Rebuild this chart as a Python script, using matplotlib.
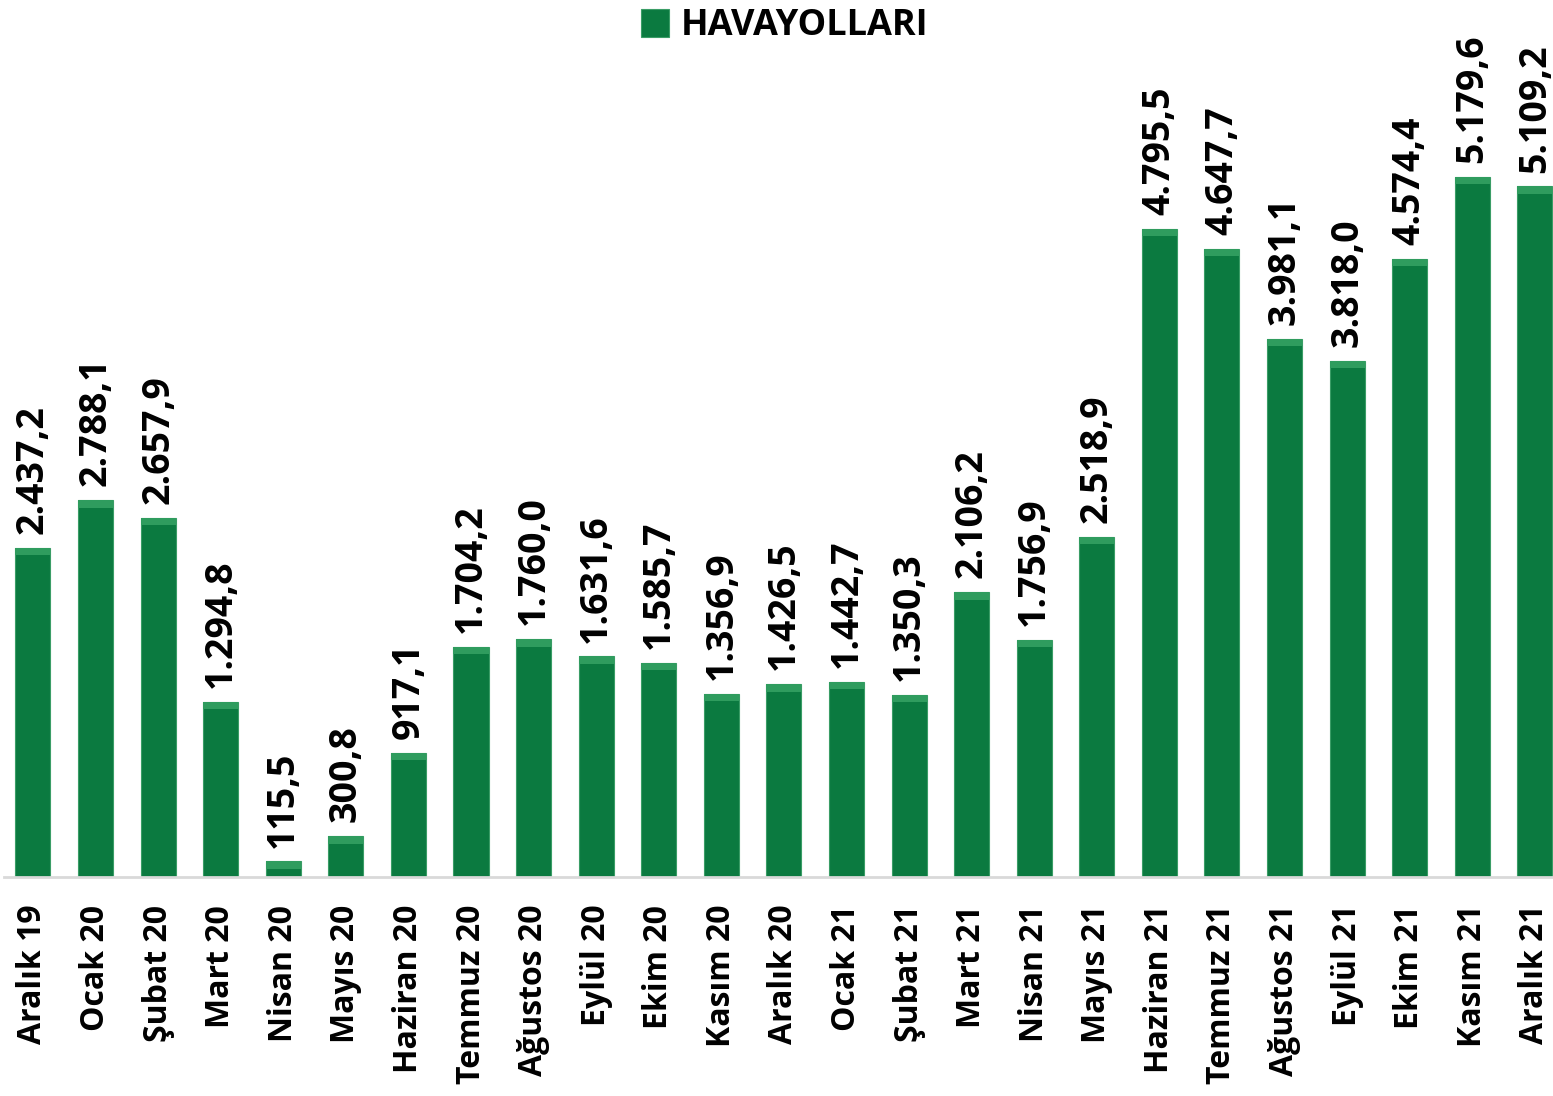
import matplotlib
matplotlib.use("Agg")
import matplotlib.pyplot as plt
import numpy as np

months = ["Aralık 19", "Ocak 20", "Şubat 20", "Mart 20", "Nisan 20", "Mayıs 20",
          "Haziran 20", "Temmuz 20", "Ağustos 20", "Eylül 20", "Ekim 20", "Kasım 20",
          "Aralık 20", "Ocak 21", "Şubat 21", "Mart 21", "Nisan 21", "Mayıs 21",
          "Haziran 21", "Temmuz 21", "Ağustos 21", "Eylül 21", "Ekim 21", "Kasım 21",
          "Aralık 21"]
values = [2437.2, 2788.1, 2657.9, 1294.8, 115.5, 300.8, 917.1, 1704.2, 1760.0,
          1631.6, 1585.7, 1356.9, 1426.5, 1442.7, 1350.3, 2106.2, 1756.9, 2518.9,
          4795.5, 4647.7, 3981.1, 3818.0, 4574.4, 5179.6, 5109.2]
series_name = "HAVAYOLLARI"

GREEN = "#0b7a40"
LIGHT = "#2f9c5e"


def tr_fmt(v):
    s = f"{v:,.1f}"
    return s.replace(",", "X").replace(".", ",").replace("X", ".")


plt.rcParams["font.family"] = ["Open Sans", "DejaVu Sans"]
plt.rcParams["font.weight"] = "bold"

fig = plt.figure(figsize=(15.53, 10.96), dpi=100)
ax = fig.add_axes([4 / 1553, 1 - 877 / 1096, 1 - 4 / 1553, 877 / 1096])

x = np.arange(len(values))
vals = np.array(values)
ax.bar(x, vals, width=0.56, color=GREEN, edgecolor="#3a9d66", linewidth=0.8,
       label=series_name, zorder=2)
bevel = np.minimum(55, vals)
ax.bar(x, bevel, bottom=vals - bevel, width=0.56,
       color=LIGHT, linewidth=0, zorder=3)

for xi, v in zip(x, vals):
    ax.annotate(tr_fmt(v), (xi, v), xytext=(0, 10), textcoords="offset points",
                rotation=90, ha="center", va="bottom", fontsize=27,
                fontweight="bold", color="black")

ax.set_xlim(-0.463, 24.29)
ax.set_ylim(0, 6489)
ax.set_xticks(x)
ax.set_xticklabels(months, rotation=90, fontsize=23, fontweight="bold")
ax.tick_params(axis="x", length=0, pad=20)
ax.set_yticks([])
for side in ["top", "right", "left"]:
    ax.spines[side].set_visible(False)
ax.spines["bottom"].set_color("#d9d9d9")
ax.spines["bottom"].set_linewidth(2)

leg = fig.legend(loc="upper center", bbox_to_anchor=(0.505, 1.022), frameon=False,
                 prop={"size": 26, "weight": "bold"}, handlelength=0.8,
                 handleheight=0.8, handletextpad=0.3)

fig.savefig("out.png", dpi=100)
